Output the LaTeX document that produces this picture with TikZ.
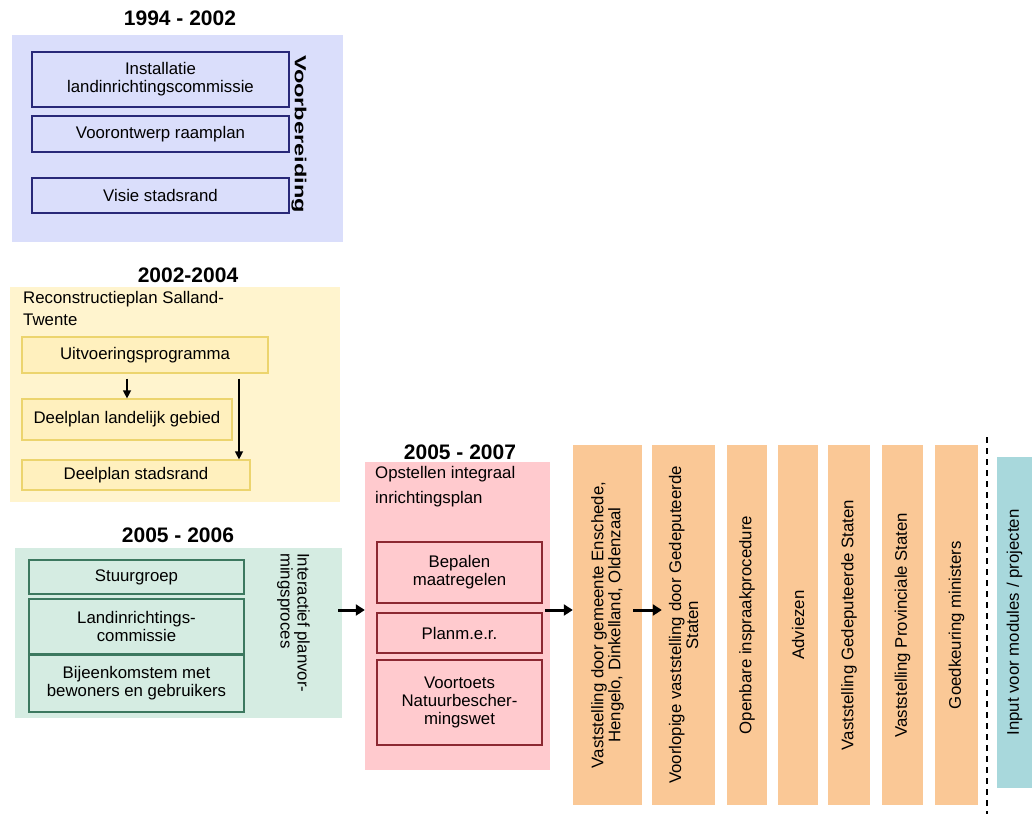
\documentclass[tikz,border=0pt]{standalone}
\usepackage{fontspec}
\setmainfont{Liberation Sans}
\usepackage{graphicx}
\usetikzlibrary{arrows.meta}
\definecolor{blueback}{RGB}{218,222,251}
\definecolor{blueline}{RGB}{40,40,120}
\definecolor{yellowback}{RGB}{255,244,206}
\definecolor{yellowbox}{RGB}{255,240,190}
\definecolor{yellowline}{RGB}{236,212,110}
\definecolor{greenback}{RGB}{213,236,226}
\definecolor{greenline}{RGB}{60,120,95}
\definecolor{redback}{RGB}{255,202,206}
\definecolor{redline}{RGB}{140,40,50}
\definecolor{orng}{RGB}{250,200,150}
\definecolor{teal}{RGB}{168,216,220}

\begin{document}
\begin{tikzpicture}[x=1pt,y=-1pt,font=\fontsize{16.8}{18}\selectfont,
panel/.style n args={3}{fill=#1,minimum width=#2,minimum height=#3,inner sep=0},
box/.style n args={4}{draw=#1,fill=#2,line width=1.2pt,minimum width=#3,minimum height=#4,align=center,inner sep=1pt},
stage/.style n args={3}{fill=#1,rotate=90,minimum width=#2,minimum height=#3,align=center,inner sep=0},
yeartitle/.style={font=\fontsize{21}{24}\selectfont\bfseries},
bigarrow/.style={line width=3pt,-{Triangle[length=9pt,width=11pt]}},
thinarrow/.style={line width=1.3pt,-{Triangle[length=8pt,width=8pt]}}]
\useasboundingbox (0,0) rectangle (1032,814);

\node[panel={blueback}{331}{207}] (blu) at (177.5,138.5) {};
\node[yeartitle] (t1) at (180,18) {1994 - 2002};
\node[box={blueline}{blueback}{257}{55}] (inst) at (160.5,79.5) {Installatie\\landinrichtingscommissie};
\node[box={blueline}{blueback}{257}{36}] (voor) at (160.5,134) {Voorontwerp raamplan};
\node[box={blueline}{blueback}{257}{35}] (visie) at (160.5,195.5) {Visie stadsrand};
\node[rotate=-90,font=\fontsize{16}{18}\selectfont\bfseries,inner sep=0] (voorb) at (299,134) {\scalebox{1.47}[1]{Voorbereiding}};

\node[panel={yellowback}{330}{215}] (yel) at (175,394.5) {};
\node[yeartitle] (t2) at (188,275) {2002-2004};
\node[anchor=north west,align=left,inner sep=0,font=\fontsize{16.8}{22}\selectfont] (recon) at (23,291) {Reconstructieplan Salland-\\Twente};
\node[box={yellowline}{yellowbox}{246}{36}] (uitv) at (145,355) {Uitvoeringsprogramma};
\node[box={yellowline}{yellowbox}{210}{41}] (land) at (127,419.5) {Deelplan landelijk gebied};
\node[box={yellowline}{yellowbox}{228}{30}] (stad) at (136,475) {Deelplan stadsrand};
\coordinate (longx) at (239,0);
\draw[thinarrow,shorten <=5pt] (uitv.south -| land.north) -- (land.north);
\draw[thinarrow,shorten <=5pt] (uitv.south -| longx) -- (stad.north -| longx);

\node[panel={greenback}{327}{170}] (grn) at (178.5,633) {};
\node[yeartitle] (t3) at (178,535) {2005 - 2006};
\node[box={greenline}{greenback}{215}{34}] (stuur) at (136.5,577) {Stuurgroep};
\node[box={greenline}{greenback}{215}{55}] (linr) at (136.5,626.5) {Landinrichtings-\\commissie};
\node[box={greenline}{greenback}{215}{57}] (bijeen) at (136.5,683.5) {Bijeenkomstem met\\bewoners en gebruikers};
\node[rotate=-90,anchor=north west,align=left,inner sep=0,font=\fontsize{16.8}{17}\selectfont] (inter) at (310,553) {Interactief planvor-\\mingsproces};

\node[panel={redback}{185}{308}] (red) at (457.5,616) {};
\node[yeartitle] (t4) at (460,452) {2005 - 2007};
\node[anchor=north west,align=left,inner sep=0,font=\fontsize{16.8}{25}\selectfont] (opst) at (375,466) {Opstellen integraal\\inrichtingsplan};
\node[box={redline}{redback}{165}{61}] (bepal) at (459.5,572.5) {Bepalen\\maatregelen};
\node[box={redline}{redback}{165}{40}] (planm) at (459.5,633) {Planm.e.r.};
\node[box={redline}{redback}{165}{85}] (voort) at (459.5,702.5) {Voortoets\\Natuurbescher-\\mingswet};

\foreach \nm/\cx/\w/\txt in {c1/607.5/69/{Vaststelling door gemeente Enschede,\\Hengelo, Dinkelland, Oldenzaal},
  c2/683.5/63/{Voorlopige vaststelling door Gedeputeerde\\Staten},
  c3/747/40/{Openbare inspraakprocedure},
  c4/798/40/{Adviezen},
  c5/849/42/{Vaststelling Gedeputeerde Staten},
  c6/902.5/41/{Vaststelling Provinciale Staten},
  c7/956.5/43/{Goedkeuring ministers}}
  \node[stage={orng}{360}{\w},font=\fontsize{16.8}{17}\selectfont] (\nm) at (\cx,625) {\txt};

\coordinate (dtop) at (987,437);
\coordinate (dbot) at (987,814);
\draw[line width=1.2pt,dash pattern=on 6pt off 5pt] (dtop) -- (dbot);
\node[stage={teal}{331}{35}] (input) at (1014.5,622.5) {Input voor modules / projecten};

\coordinate (arrowy) at (0,610);
\draw[bigarrow,shorten <=-4pt] (grn.east |- arrowy) -- (red.west |- arrowy);
\draw[bigarrow,shorten <=-5pt] (red.east |- arrowy) -- (c1.north |- arrowy);
\draw[bigarrow,shorten <=-9pt,shorten >=-10pt] (c1.south |- arrowy) -- (c2.north |- arrowy);
\end{tikzpicture}
\end{document}
